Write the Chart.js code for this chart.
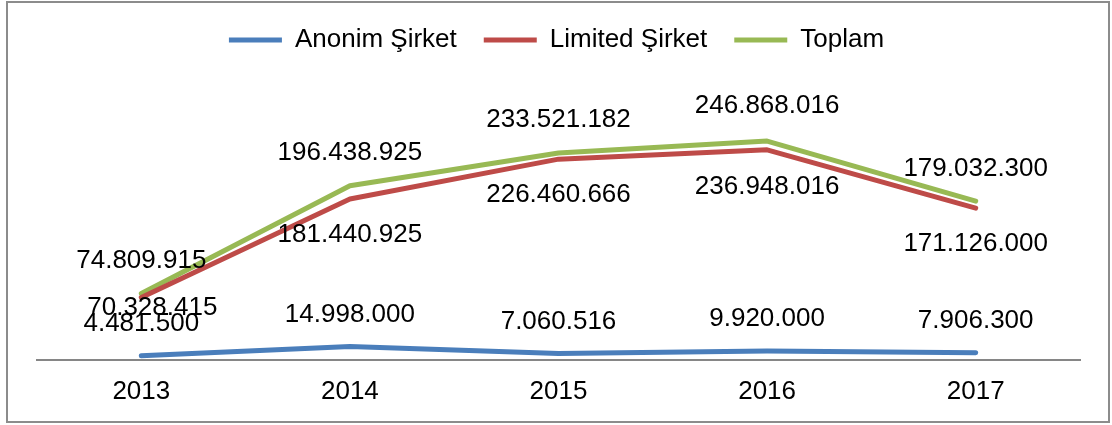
<!DOCTYPE html>
<html>
<head>
<meta charset="utf-8">
<script src="https://cdn.jsdelivr.net/npm/chart.js@4/dist/chart.umd.min.js"></script>
<style>
  body { margin: 0; background: #fff; }
  #cerceve { position: absolute; left: 6px; top: 1px; width: 1104px; height: 422px; box-sizing: border-box; border: 2px solid #8c8c8c; }
  #grafik { position: absolute; left: 0; top: 0; }
</style>
</head>
<body>
<div id="cerceve"></div>
<canvas id="grafik" width="1112" height="425"></canvas>
<script>
const yillar = ['2013', '2014', '2015', '2016', '2017'];
const anonimSirket = [4481500, 14998000, 7060516, 9920000, 7906300];
const limitedSirket = [70328415, 181440925, 226460666, 236948016, 171126000];
const toplam = [74809915, 196438925, 233521182, 246868016, 179032300];

const yaziTipi = '"Liberation Sans", Arial, sans-serif';

const noktali = v => String(v).replace(/\B(?=(\d{3})+(?!\d))/g, '.');

// etiket kaymalari: seri basina dy, ilk limited etiketi elle kaydirilmis
const etiketKayma = [
  { dx: [0, 0, 0, 0, 0], dy: [-32, -32, -32, -32, -32] },
  { dx: [11, 0, 0, 0, 0], dy: [10, 36, 36, 37, 36] },
  { dx: [0, 0, 0, 0, 0], dy: [-33, -33, -33, -35, -32] }
];

const veriEtiketleri = {
  id: 'veriEtiketleri',
  afterDatasetsDraw(chart) {
    const ctx = chart.ctx;
    ctx.save();
    ctx.font = '26px ' + yaziTipi;
    ctx.fillStyle = '#000';
    ctx.textAlign = 'center';
    ctx.textBaseline = 'middle';
    chart.data.datasets.forEach((ds, i) => {
      chart.getDatasetMeta(i).data.forEach((pt, j) => {
        const k = etiketKayma[i];
        ctx.fillText(noktali(ds.data[j]), pt.x + k.dx[j], pt.y + k.dy[j]);
      });
    });
    ctx.restore();
  }
};

const seri = (label, data, renk) => ({
  label,
  data,
  borderColor: renk,
  backgroundColor: renk,
  borderWidth: 5,
  borderCapStyle: 'round',
  borderJoinStyle: 'round',
  pointRadius: 0,
  tension: 0
});

new Chart(document.getElementById('grafik').getContext('2d'), {
  type: 'line',
  data: {
    labels: yillar,
    datasets: [
      seri('Anonim Şirket', anonimSirket, '#4A7EBB'),
      seri('Limited Şirket', limitedSirket, '#BE4B48'),
      seri('Toplam', toplam, '#98B954')
    ]
  },
  options: {
    responsive: false,
    animation: false,
    layout: { padding: { left: 33, right: 32, top: 0, bottom: 2 } },
    plugins: {
      legend: {
        position: 'top',
        labels: {
          usePointStyle: true,
          pointStyle: 'line',
          pointStyleWidth: 53,
          padding: 27,
          color: '#000',
          font: { family: yaziTipi, size: 26 }
        }
      },
      tooltip: { enabled: false }
    },
    scales: {
      x: {
        offset: true,
        grid: { display: false, drawTicks: false },
        border: { display: true, color: '#868686', width: 2 },
        ticks: { padding: 16, color: '#000', font: { family: yaziTipi, size: 26 } }
      },
      y: {
        position: 'left',
        min: 0,
        max: 335000000,
        grid: { display: false, drawTicks: false },
        border: { display: false },
        ticks: { display: false },
        afterFit(scale) { scale.width = 4; }
      }
    }
  },
  plugins: [veriEtiketleri]
});
</script>
</body>
</html>
